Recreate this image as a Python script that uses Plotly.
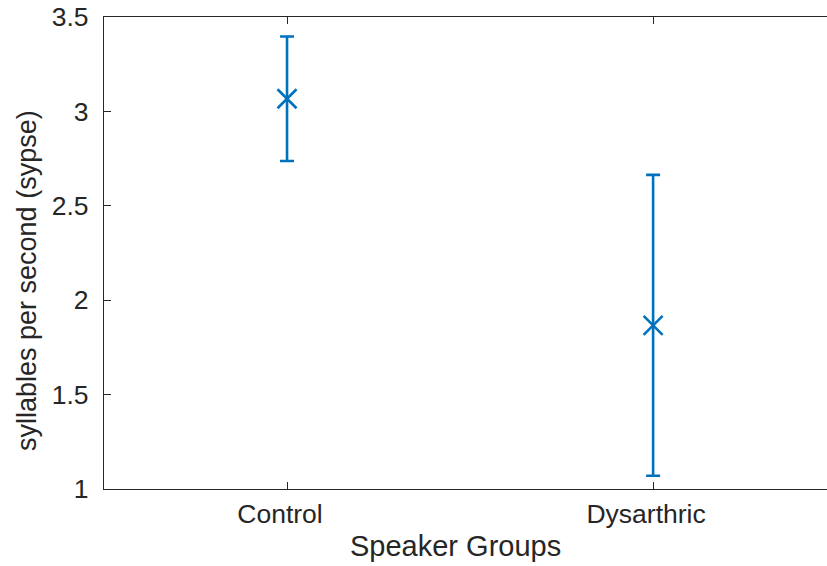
import plotly.graph_objects as go

# Speaking rate per group: mean and half-width of the error bar
groups = ["Control", "Dysarthric"]
group_pos = [1, 2]
mean_rate = [3.067, 1.867]
err_rate = [0.330, 0.797]

y_ticks = [1, 1.5, 2, 2.5, 3, 3.5]
y_ticklabels = ["1", "1.5", "2", "2.5", "3", "3.5"]

x_title = "Speaker Groups"
y_title = "syllables per second (sypse)"

blue = "#0072BD"
ink = "#262626"
font = "Liberation Sans, Arial, Helvetica, sans-serif"

W, H = 827, 566
M_L, M_R, M_T, M_B = 104, 0, 17, 77
plot_w = W - M_L - M_R
plot_h = H - M_T - M_B


def px_to_paper(px, py):
    """Convert page pixel position to paper coordinates."""
    return (px - M_L) / plot_w, (H - M_B - py) / plot_h


fig = go.Figure()
fig.add_trace(go.Scatter(
    x=group_pos,
    y=mean_rate,
    mode="markers",
    marker=dict(symbol="x-thin", size=19, color=blue,
                line=dict(color=blue, width=2.6)),
    error_y=dict(type="data", array=err_rate, visible=True,
                 color=blue, thickness=2.6, width=7),
    showlegend=False,
    hoverinfo="skip",
))

fig.update_layout(
    width=W,
    height=H,
    margin=dict(l=M_L, r=M_R, t=M_T, b=M_B),
    paper_bgcolor="white",
    plot_bgcolor="white",
    font=dict(family=font, size=27, color=ink),
)

fig.update_xaxes(
    range=[0.5, 2.475],
    tickmode="array",
    tickvals=group_pos,
    ticktext=groups,
    ticks="inside",
    ticklen=7,
    tickwidth=1,
    tickcolor=ink,
    showline=True,
    linecolor=ink,
    linewidth=1.2,
    mirror="ticks",
    showgrid=False,
    zeroline=False,
    ticklabelstandoff=1,
    ticklabelshift=-7,
    tickfont=dict(size=26.5, color=ink),
)

fig.update_yaxes(
    range=[1, 3.5],
    tickmode="array",
    tickvals=y_ticks,
    ticktext=y_ticklabels,
    ticks="inside",
    ticklen=7,
    tickwidth=1,
    tickcolor=ink,
    showline=True,
    linecolor=ink,
    linewidth=1.2,
    showgrid=False,
    zeroline=False,
    ticklabelstandoff=9,
    tickfont=dict(size=26.5, color=ink),
)

# Axis titles
tx, ty = px_to_paper(455.5, 546)
fig.add_annotation(text=x_title, xref="paper", yref="paper", x=tx, y=ty,
                   xanchor="center", yanchor="middle", showarrow=False,
                   font=dict(size=29, color=ink))
ax_, ay_ = px_to_paper(27, 281)
fig.add_annotation(text=y_title, xref="paper", yref="paper", x=ax_, y=ay_,
                   xanchor="center", yanchor="middle", showarrow=False,
                   textangle=-90, font=dict(size=27, color=ink))

fig.write_html("out.html")
